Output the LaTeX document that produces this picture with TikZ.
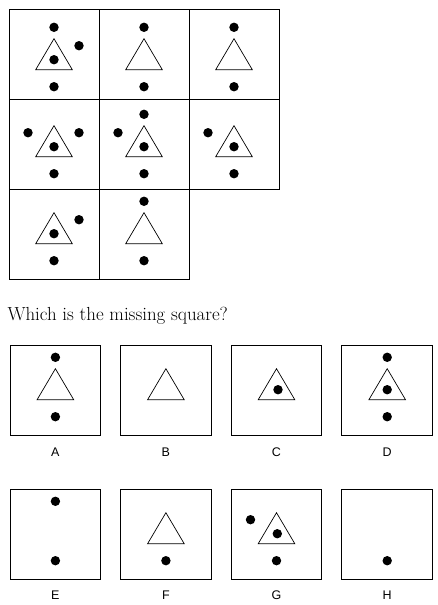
\documentclass[tikz,border=0pt]{standalone}
\usepackage{fontspec}
\newfontfamily\labelfont{Liberation Sans}

\begin{document}
\begin{tikzpicture}[x=1pt,y=-1pt,
		cell/.style={draw=black,line width=0.9pt},
		tri/.style={draw=black,line width=0.7pt},
		dot/.style={fill=black},
		choice/.style={font=\labelfont\fontsize{12.5}{14}\selectfont}]
		\useasboundingbox (0,0) rectangle (437,605);
		% puzzle grid
		\draw[cell] (9,9) rectangle (99,99);
		\draw[cell] (99,9) rectangle (189,99);
		\draw[cell] (189,9) rectangle (279,99);
		\draw[cell] (9,99) rectangle (99,189);
		\draw[cell] (99,99) rectangle (189,189);
		\draw[cell] (189,99) rectangle (279,189);
		\draw[cell] (9,189) rectangle (99,279);
		\draw[cell] (99,189) rectangle (189,279);
		% row 1
		\begin{scope}[shift={(54,57)}]
			\draw[tri] (0,-18.3) -- (18.3,12.7) -- (-18.3,12.7) -- cycle;
			\fill[dot] (0,-29.7) circle (4.7);
			\fill[dot] (25,-11.3) circle (4.7);
			\fill[dot] (0,2.7) circle (4.7);
			\fill[dot] (0,29.7) circle (4.7);
		\end{scope}
		\begin{scope}[shift={(144,57)}]
			\draw[tri] (0,-18.3) -- (18.3,12.7) -- (-18.3,12.7) -- cycle;
			\fill[dot] (0,-29.7) circle (4.7);
			\fill[dot] (0,29.7) circle (4.7);
		\end{scope}
		\begin{scope}[shift={(234,57)}]
			\draw[tri] (0,-18.3) -- (18.3,12.7) -- (-18.3,12.7) -- cycle;
			\fill[dot] (0,-29.7) circle (4.7);
			\fill[dot] (0,29.7) circle (4.7);
		\end{scope}
		% row 2
		\begin{scope}[shift={(54,144)}]
			\draw[tri] (0,-18.3) -- (18.3,12.7) -- (-18.3,12.7) -- cycle;
			\fill[dot] (-26,-11.3) circle (4.7);
			\fill[dot] (25,-11.3) circle (4.7);
			\fill[dot] (0,2.7) circle (4.7);
			\fill[dot] (0,29.7) circle (4.7);
		\end{scope}
		\begin{scope}[shift={(144,144)}]
			\draw[tri] (0,-18.3) -- (18.3,12.7) -- (-18.3,12.7) -- cycle;
			\fill[dot] (0,-29.7) circle (4.7);
			\fill[dot] (-26,-11.3) circle (4.7);
			\fill[dot] (0,2.7) circle (4.7);
			\fill[dot] (0,29.7) circle (4.7);
		\end{scope}
		\begin{scope}[shift={(234,144)}]
			\draw[tri] (0,-18.3) -- (18.3,12.7) -- (-18.3,12.7) -- cycle;
			\fill[dot] (-26,-11.3) circle (4.7);
			\fill[dot] (0,2.7) circle (4.7);
			\fill[dot] (0,29.7) circle (4.7);
		\end{scope}
		% row 3
		\begin{scope}[shift={(54,231)}]
			\draw[tri] (0,-18.3) -- (18.3,12.7) -- (-18.3,12.7) -- cycle;
			\fill[dot] (25,-11.3) circle (4.7);
			\fill[dot] (0,2.7) circle (4.7);
			\fill[dot] (0,29.7) circle (4.7);
		\end{scope}
		\begin{scope}[shift={(144,231)}]
			\draw[tri] (0,-18.3) -- (18.3,12.7) -- (-18.3,12.7) -- cycle;
			\fill[dot] (0,-29.7) circle (4.7);
			\fill[dot] (0,29.7) circle (4.7);
		\end{scope}
		% question
		\node[anchor=base west,inner sep=0pt,font=\fontsize{18.9}{22}\selectfont] (question) at (7.3,320.7) {Which is the missing square?};
		% answer boxes
		\draw[cell] (10,345.3) rectangle (100.8,435.3);
		\draw[cell] (120.5,345.3) rectangle (211.3,435.3);
		\draw[cell] (231.1,345.3) rectangle (321.9,435.3);
		\draw[cell] (341.8,345.3) rectangle (432.6,435.3);
		\draw[cell] (10,489.3) rectangle (100.8,579.3);
		\draw[cell] (120.5,489.3) rectangle (211.3,579.3);
		\draw[cell] (231.1,489.3) rectangle (321.9,579.3);
		\draw[cell] (341.8,489.3) rectangle (432.6,579.3);
		% A
		\begin{scope}[shift={(55.4,387)}]
			\draw[tri] (0,-18.3) -- (18.3,12.7) -- (-18.3,12.7) -- cycle;
			\fill[dot] (0,-29.7) circle (4.7);
			\fill[dot] (0,29.7) circle (4.7);
		\end{scope}
		% B
		\begin{scope}[shift={(165.9,387)}]
			\draw[tri] (0,-18.3) -- (18.3,12.7) -- (-18.3,12.7) -- cycle;
		\end{scope}
		% C
		\begin{scope}[shift={(276.5,387)}]
			\draw[tri] (0,-18.3) -- (18.3,12.7) -- (-18.3,12.7) -- cycle;
			\fill[dot] (1.5,2.7) circle (4.7);
		\end{scope}
		% D
		\begin{scope}[shift={(387.2,387)}]
			\draw[tri] (0,-18.3) -- (18.3,12.7) -- (-18.3,12.7) -- cycle;
			\fill[dot] (0,-29.7) circle (4.7);
			\fill[dot] (0,2.7) circle (4.7);
			\fill[dot] (0,29.7) circle (4.7);
		\end{scope}
		% E
		\begin{scope}[shift={(55.4,531)}]
			\fill[dot] (0,-29.7) circle (4.7);
			\fill[dot] (0,29.7) circle (4.7);
		\end{scope}
		% F
		\begin{scope}[shift={(165.9,531)}]
			\draw[tri] (0,-18.3) -- (18.3,12.7) -- (-18.3,12.7) -- cycle;
			\fill[dot] (0,29.7) circle (4.7);
		\end{scope}
		% G
		\begin{scope}[shift={(276.5,531)}]
			\draw[tri] (0,-18.3) -- (18.3,12.7) -- (-18.3,12.7) -- cycle;
			\fill[dot] (-26,-11.3) circle (4.7);
			\fill[dot] (0.8,2.7) circle (4.7);
			\fill[dot] (0,29.7) circle (4.7);
		\end{scope}
		% H
		\begin{scope}[shift={(387.2,531)}]
			\fill[dot] (0,29.7) circle (4.7);
		\end{scope}
		% labels
		\node[choice] (labA) at (55.4,451.7) {A};
		\node[choice] (labB) at (165.9,451.7) {B};
		\node[choice] (labC) at (276.5,451.7) {C};
		\node[choice] (labD) at (387.2,451.7) {D};
		\node[choice] (labE) at (55.4,595) {E};
		\node[choice] (labF) at (165.9,595) {F};
		\node[choice] (labG) at (276.5,595) {G};
		\node[choice] (labH) at (387.2,595) {H};
	\end{tikzpicture}
\end{document}
